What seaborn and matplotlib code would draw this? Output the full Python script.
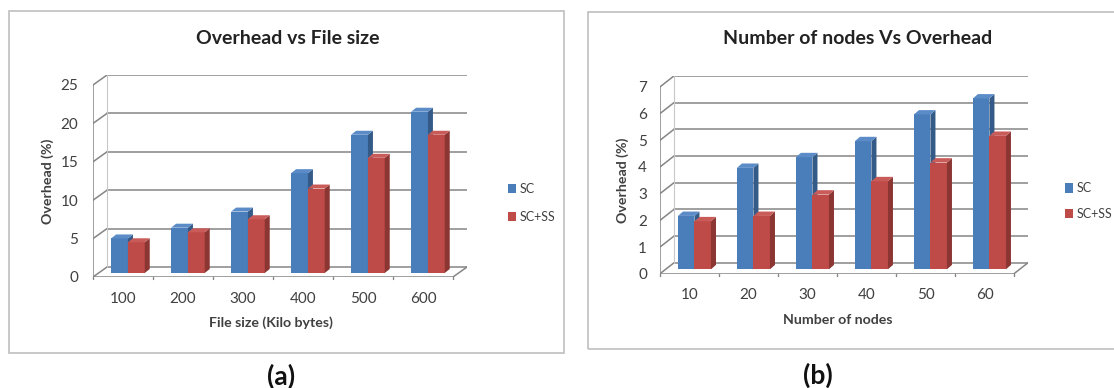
import pandas as pd
import matplotlib.pyplot as plt
import seaborn as sns
from matplotlib.patches import Polygon, Rectangle

# panel (a): overhead vs file size
file_sizes = ["100", "200", "300", "400", "500", "600"]
sc_file = [4.5, 5.9, 8.0, 13.0, 18.0, 21.0]
scss_file = [4.0, 5.3, 7.0, 11.0, 15.0, 18.0]

# panel (b): overhead vs number of nodes
node_counts = ["10", "20", "30", "40", "50", "60"]
sc_nodes = [2.0, 3.8, 4.2, 4.8, 5.8, 6.4]
scss_nodes = [1.8, 2.0, 2.8, 3.3, 4.0, 5.0]

series_names = ["SC", "SC+SS"]
colors = ["#4A7EBB", "#BE4B48"]
side_colors = ["#345A88", "#8C3634"]
top_colors = ["#5B8CC8", "#C95B58"]

sns.set_theme(style="white")
plt.rcParams["font.family"] = ["Lato", "DejaVu Sans"]

TXT = "#404040"
GRID = "#858585"


def fake_3d(ax, cats, a, b, ymax, ystep, dx, dy, xlabel, ypad, xpad, xlab_xy, ylab_xy):
    df = pd.DataFrame({
        "cat": cats * 2,
        "val": a + b,
        "series": [series_names[0]] * len(cats) + [series_names[1]] * len(cats),
    })
    sns.barplot(data=df, x="cat", y="val", hue="series", palette=colors,
                width=0.56, saturation=1, ax=ax, order=cats, hue_order=series_names)
    n = len(cats)
    x0, x1 = -0.5, n - 0.5
    top = ymax + dy

    # back wall gridlines + left wall diagonals
    for v in range(0, ymax + 1, ystep):
        ax.plot([x0 + dx, x1 + dx], [v + dy, v + dy], color=GRID, lw=1.1, zorder=0)
        ax.plot([x0, x0 + dx], [v, v + dy], color=GRID, lw=1.1, zorder=0)
    ax.plot([x0, x0], [0, ymax], color=GRID, lw=1.1, zorder=0)
    ax.plot([x0 + dx, x0 + dx], [dy, ymax + dy], color="#C8C8C8", lw=0.8, zorder=0)
    # floor
    ax.plot([x0, x1], [0, 0], color=GRID, lw=1.1, zorder=0)
    ax.plot([x1, x1 + dx], [0, dy], color=GRID, lw=1.1, zorder=0)
    for k in range(n + 1):
        ax.plot([x0 + k, x0 + k], [0, -0.012 * top], color=GRID, lw=1, zorder=0, clip_on=False)

    # give each bar a side and a top face
    bars = [p for p in ax.patches if isinstance(p, Rectangle) and p.get_height() > 0]
    ex, ey = 0.35 * dx, 0.4 * dy
    bx, by = 0.36 * dx, 0.4 * dy
    for i, p in enumerate(bars):
        s = 0 if i < n else 1
        p.set_x(p.get_x() + ex)
        p.set_y(ey)
        p.set_edgecolor("none")
        p.set_zorder(3 + (i % n) * 2 + s)
        x, w, h = p.get_x(), p.get_width(), p.get_height() + ey
        side = Polygon([(x + w, ey), (x + w + bx, ey + by), (x + w + bx, h + by), (x + w, h)],
                       closed=True, facecolor=side_colors[s], edgecolor="none", zorder=p.get_zorder())
        cap = Polygon([(x, h), (x + bx, h + by), (x + w + bx, h + by), (x + w, h)],
                      closed=True, facecolor=top_colors[s], edgecolor="none", zorder=p.get_zorder())
        ax.add_patch(side)
        ax.add_patch(cap)

    ax.set_xlim(x0, x1 + dx)
    ax.set_ylim(0, top)
    ax.set_yticks(range(0, ymax + 1, ystep))
    for sp in ax.spines.values():
        sp.set_visible(False)
    ax.tick_params(axis="y", length=0, pad=ypad, labelsize=11, labelcolor=TXT)
    ax.tick_params(axis="x", length=0, pad=xpad, labelsize=11, labelcolor=TXT)
    ax.set_xlabel(xlabel, fontsize=10.2, fontweight="bold", color=TXT, va="center")
    ax.set_ylabel("Overhead (%)", fontsize=10.2, fontweight="bold", color=TXT, va="center")
    ax.xaxis.set_label_coords(*xlab_xy)
    ax.yaxis.set_label_coords(*ylab_xy)
    ax.legend_.remove()


fig = plt.figure(figsize=(11.14, 3.88), dpi=100)

ax1 = fig.add_axes([0.0835, 0.2861, 0.3357, 0.5206])
fake_3d(ax1, file_sizes, sc_file, scss_file, 25, 5, 0.233, 1.3, "File size (Kilo bytes)",
        10.5, 11, (0.476, -0.228), (-0.120, 0.475))

ax2 = fig.add_axes([0.5925, 0.2946, 0.3303, 0.5098])
fake_3d(ax2, node_counts, sc_nodes, scss_nodes, 7, 1, 0.237, 0.41, "Number of nodes",
        9.4, 10.5, (0.484, -0.234), (-0.1005, 0.474))

for ax, xanchor, yanchor, sp in [(ax1, 0.446, 0.4768, 1.3), (ax2, 0.946, 0.482, 1.05)]:
    handles = [Rectangle((0, 0), 1, 1, facecolor=c, edgecolor="none") for c in colors]
    leg = ax.legend(handles, series_names, loc="center left", bbox_to_anchor=(xanchor, yanchor),
                    bbox_transform=fig.transFigure, frameon=False, fontsize=9,
                    handlelength=0.65, handleheight=0.75, handletextpad=0.3, labelspacing=sp)
    for t in leg.get_texts():
        t.set_color(TXT)

# panel frames
fig.add_artist(Rectangle((0.0081, 0.0902), 0.4982, 0.8814, transform=fig.transFigure,
                         fill=False, edgecolor="#BFBFBF", lw=1.2))
fig.add_artist(Rectangle((0.5278, 0.1005), 0.48, 0.8686, transform=fig.transFigure,
                         fill=False, edgecolor="#BFBFBF", lw=1.2))

fig.text(0.258, 0.902, "Overhead vs File size", ha="center", va="center",
         fontsize=14, fontweight="bold", color="#222222")
fig.text(0.770, 0.902, "Number of nodes Vs Overhead", ha="center", va="center",
         fontsize=14, fontweight="bold", color="#222222")
fig.text(0.252, 0.030, "(a)", ha="center", va="center", fontsize=19, fontweight="bold", color="#111111")
fig.text(0.734, 0.032, "(b)", ha="center", va="center", fontsize=19, fontweight="bold", color="#111111")

fig.savefig("out.png", dpi=100)
